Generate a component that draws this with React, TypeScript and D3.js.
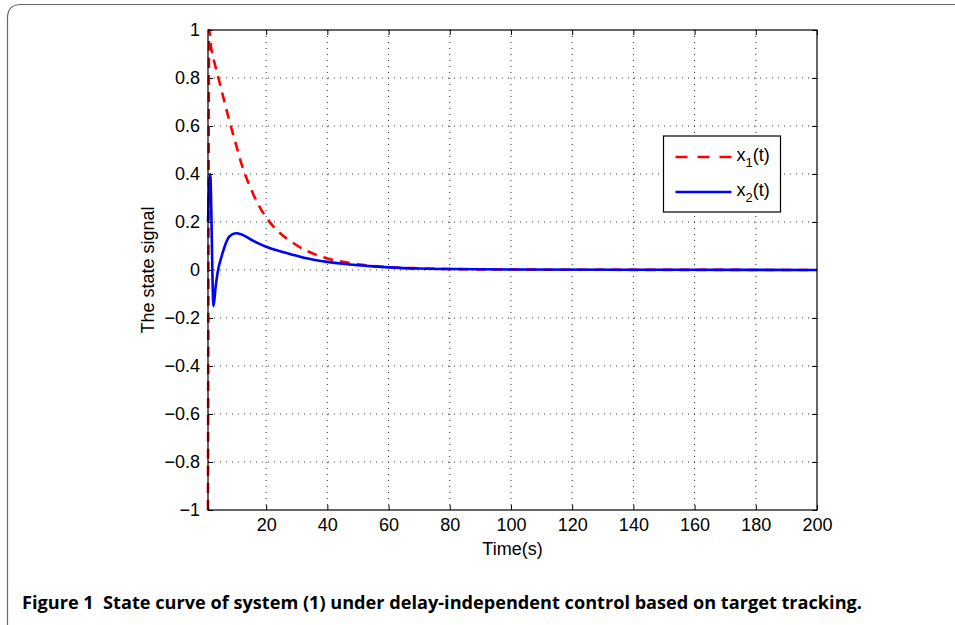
import React, { useRef, useEffect } from 'react';
import * as d3 from 'd3';

// x1(t) readings: [time, value]
const x1Times = [1, 1.4, 2, 3, 4, 6, 8, 10, 12, 14, 16, 18, 20, 24, 28, 32, 36, 40, 45, 50, 55, 60, 70, 80, 100, 120, 160, 200];
const x1Values = [-1, 1, 0.93, 0.87, 0.82, 0.72, 0.62, 0.53, 0.44, 0.37, 0.31, 0.26, 0.22, 0.16, 0.12, 0.088, 0.065, 0.048, 0.034, 0.024, 0.017, 0.012, 0.007, 0.004, 0.002, 0.001, 0.0005, 0];

// x2(t) readings
const x2Times = [1, 1.7, 2.8, 3.5, 4.3, 5.3, 6.5, 8, 10, 12, 14, 16, 18, 20, 24, 28, 32, 36, 40, 45, 50, 55, 60, 70, 80, 100, 150, 200];
const x2Values = [0.2, 0.4, -0.15, -0.07, 0, 0.05, 0.1, 0.14, 0.153, 0.148, 0.135, 0.12, 0.108, 0.097, 0.08, 0.066, 0.052, 0.042, 0.034, 0.026, 0.02, 0.015, 0.011, 0.006, 0.004, 0.002, 0.001, 0];

const xTicks = [20, 40, 60, 80, 100, 120, 140, 160, 180, 200];
const yTicks = [-1, -0.8, -0.6, -0.4, -0.2, 0, 0.2, 0.4, 0.6, 0.8, 1];

const legendItems = [
  { sub: '1', color: '#ff0000', dash: '12,10' },
  { sub: '2', color: '#0000ff', dash: null },
];

const caption = 'Figure 1  State curve of system (1) under delay-independent control based on target tracking.';

const App = () => {
  const svgRef = useRef();

  useEffect(() => {
    document.body.style.margin = '0';
    const svg = d3.select(svgRef.current);
    svg.selectAll('*').remove();

    const width = 955;
    const height = 625;
    const margin = { top: 30, right: 138, bottom: 115, left: 208 };
    const innerWidth = width - margin.left - margin.right;
    const innerHeight = height - margin.top - margin.bottom;
    const font = 'Liberation Sans, Arial, sans-serif';

    // outer frame (rounded corner, open to the right/bottom)
    svg.append('path')
      .attr('d', 'M7.5,640 L7.5,18 Q7.5,4.5 21,4.5 L970,4.5')
      .attr('fill', 'none')
      .attr('stroke', '#666')
      .attr('stroke-width', 1.2);

    const xScale = d3.scaleLinear().domain([1, 200]).range([0, innerWidth]);
    const yScale = d3.scaleLinear().domain([-1, 1]).range([innerHeight, 0]);

    const g = svg.append('g').attr('transform', `translate(${margin.left},${margin.top})`);

    g.append('rect')
      .attr('width', innerWidth)
      .attr('height', innerHeight)
      .attr('fill', 'white');

    // dotted grid
    g.append('g')
      .selectAll('line')
      .data(xTicks.filter(d => d < 200))
      .enter()
      .append('line')
      .attr('x1', d => xScale(d))
      .attr('x2', d => xScale(d))
      .attr('y1', 0)
      .attr('y2', innerHeight)
      .attr('stroke', '#333')
      .attr('stroke-width', 1)
      .attr('stroke-dasharray', '1,5');

    g.append('g')
      .selectAll('line')
      .data(yTicks.filter(d => d > -1 && d < 1))
      .enter()
      .append('line')
      .attr('x1', 0)
      .attr('x2', innerWidth)
      .attr('y1', d => yScale(d))
      .attr('y2', d => yScale(d))
      .attr('stroke', '#333')
      .attr('stroke-width', 1)
      .attr('stroke-dasharray', '1,5');

    // axes with inward ticks
    const styleAxis = sel => {
      sel.select('.domain').remove();
      sel.selectAll('line').attr('stroke', '#000');
      sel.selectAll('text')
        .attr('fill', '#000')
        .style('font-family', font)
        .style('font-size', '18px');
    };

    g.append('g')
      .attr('transform', `translate(0,${innerHeight})`)
      .call(d3.axisBottom(xScale).tickValues(xTicks).tickSize(-5).tickPadding(8).tickFormat(d3.format('d')))
      .call(styleAxis);

    g.append('g')
      .call(d3.axisTop(xScale).tickValues(xTicks).tickSize(-5).tickFormat(() => ''))
      .call(styleAxis);

    g.append('g')
      .call(d3.axisLeft(yScale).tickValues(yTicks).tickSize(-5).tickPadding(8)
        .tickFormat(d => (d === 0 ? '0' : d3.format('.1~f')(d).replace('-', '\u2212').replace('1.0', '1'))))
      .call(styleAxis);

    g.append('g')
      .attr('transform', `translate(${innerWidth},0)`)
      .call(d3.axisRight(yScale).tickValues(yTicks).tickSize(-5).tickFormat(() => ''))
      .call(styleAxis);

    // lines
    const line = d3.line()
      .x(d => xScale(d[0]))
      .y(d => yScale(d[1]))
      .curve(d3.curveMonotoneX);

    const x1Data = x1Times.map((t, i) => [t, x1Values[i]]);
    const x2Data = x2Times.map((t, i) => [t, x2Values[i]]);

    g.append('path')
      .datum(x1Data)
      .attr('fill', 'none')
      .attr('stroke', '#ff0000')
      .attr('stroke-width', 2.6)
      .attr('stroke-dasharray', '10,7')
      .attr('d', line);

    g.append('path')
      .datum(x2Data)
      .attr('fill', 'none')
      .attr('stroke', '#0000ff')
      .attr('stroke-width', 2.6)
      .attr('d', line);

    // box
    g.append('rect')
      .attr('width', innerWidth)
      .attr('height', innerHeight)
      .attr('fill', 'none')
      .attr('stroke', '#000')
      .attr('stroke-width', 1.2);

    // axis labels
    g.append('text')
      .attr('x', innerWidth / 2)
      .attr('y', innerHeight + 45)
      .attr('text-anchor', 'middle')
      .style('font-family', font)
      .style('font-size', '18px')
      .text('Time(s)');

    g.append('text')
      .attr('transform', `translate(${-54},${innerHeight / 2}) rotate(-90)`)
      .attr('text-anchor', 'middle')
      .style('font-family', font)
      .style('font-size', '18px')
      .text('The state signal');

    // legend
    const legend = svg.append('g').attr('transform', 'translate(663.5,136)');
    legend.append('rect')
      .attr('width', 117)
      .attr('height', 76)
      .attr('fill', 'white')
      .attr('stroke', '#000')
      .attr('stroke-width', 1.2);

    const item = legend.selectAll('.legend-item')
      .data(legendItems)
      .enter()
      .append('g')
      .attr('class', 'legend-item')
      .attr('transform', (d, i) => `translate(0,${21 + i * 35})`);

    item.append('line')
      .attr('x1', 12)
      .attr('x2', 68)
      .attr('stroke', d => d.color)
      .attr('stroke-width', 2.6)
      .attr('stroke-dasharray', d => d.dash);

    const label = item.append('text')
      .attr('x', 73)
      .attr('y', 4)
      .style('font-family', font)
      .style('font-size', '18px');
    label.append('tspan').text('x');
    label.append('tspan').attr('dy', 6).style('font-size', '13px').text(d => d.sub);
    label.append('tspan').attr('dy', -6).text('(t)');

    // caption
    svg.append('text')
      .attr('x', 22)
      .attr('y', 609)
      .attr('textLength', 840)
      .attr('lengthAdjust', 'spacingAndGlyphs')
      .style('font-family', 'Open Sans, Noto Sans, sans-serif')
      .style('font-weight', 'bold')
      .style('font-size', '17px')
      .style('white-space', 'pre')
      .text(caption);
  }, []);

  return <svg ref={svgRef} width={955} height={625} style={{ display: 'block', background: 'white' }} />;
};

export default App;
